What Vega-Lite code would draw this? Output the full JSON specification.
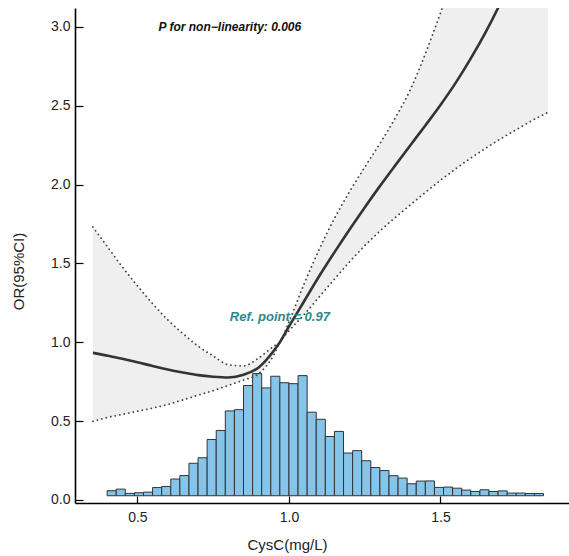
{
  "$schema": "https://vega.github.io/schema/vega-lite/v6.json",
  "width": 494,
  "height": 495,
  "autosize": {"type": "none"},
  "padding": {"left": 75, "top": 8, "right": 0, "bottom": 53},
  "background": "white",
  "config": {
    "view": {"stroke": null},
    "font": "Liberation Sans",
    "axis": {"grid": false, "domainColor": "#000000", "domainWidth": 1.6, "tickColor": "#000000", "tickWidth": 1.2, "labelFont": "Liberation Sans", "labelFontSize": 14, "labelColor": "#222222", "titleFont": "Liberation Sans", "titleFontSize": 15, "titleFontWeight": "normal", "titleColor": "#222222"}
  },
  "datasets": {
    "curve": [
      {"x": 0.353, "or": 0.933, "lower": 0.498, "upper": 1.731},
      {"x": 0.40, "or": 0.915, "lower": 0.522, "upper": 1.608},
      {"x": 0.45, "or": 0.895, "lower": 0.542, "upper": 1.478},
      {"x": 0.50, "or": 0.873, "lower": 0.562, "upper": 1.358},
      {"x": 0.55, "or": 0.849, "lower": 0.582, "upper": 1.245},
      {"x": 0.60, "or": 0.827, "lower": 0.605, "upper": 1.142},
      {"x": 0.65, "or": 0.808, "lower": 0.634, "upper": 1.055},
      {"x": 0.70, "or": 0.791, "lower": 0.664, "upper": 0.975},
      {"x": 0.75, "or": 0.781, "lower": 0.693, "upper": 0.913},
      {"x": 0.80, "or": 0.776, "lower": 0.726, "upper": 0.857},
      {"x": 0.85, "or": 0.793, "lower": 0.760, "upper": 0.850},
      {"x": 0.90, "or": 0.840, "lower": 0.800, "upper": 0.900},
      {"x": 0.95, "or": 0.946, "lower": 0.920, "upper": 0.975},
      {"x": 0.97, "or": 1.0, "lower": 1.0, "upper": 1.0},
      {"x": 1.00, "or": 1.10, "lower": 1.072, "upper": 1.13},
      {"x": 1.05, "or": 1.26, "lower": 1.175, "upper": 1.37},
      {"x": 1.10, "or": 1.42, "lower": 1.288, "upper": 1.59},
      {"x": 1.15, "or": 1.57, "lower": 1.400, "upper": 1.785},
      {"x": 1.20, "or": 1.715, "lower": 1.510, "upper": 1.955},
      {"x": 1.25, "or": 1.855, "lower": 1.612, "upper": 2.11},
      {"x": 1.30, "or": 1.99, "lower": 1.705, "upper": 2.26},
      {"x": 1.35, "or": 2.12, "lower": 1.790, "upper": 2.42},
      {"x": 1.40, "or": 2.248, "lower": 1.870, "upper": 2.60},
      {"x": 1.45, "or": 2.375, "lower": 1.950, "upper": 2.83},
      {"x": 1.50, "or": 2.505, "lower": 2.027, "upper": 3.09},
      {"x": 1.55, "or": 2.645, "lower": 2.100, "upper": 3.37},
      {"x": 1.60, "or": 2.80, "lower": 2.168, "upper": 3.66},
      {"x": 1.65, "or": 2.97, "lower": 2.232, "upper": 3.96},
      {"x": 1.70, "or": 3.16, "lower": 2.292, "upper": 4.27},
      {"x": 1.75, "or": 3.37, "lower": 2.348, "upper": 4.58},
      {"x": 1.80, "or": 3.59, "lower": 2.404, "upper": 4.90},
      {"x": 1.855, "or": 3.84, "lower": 2.458, "upper": 5.25}
    ],
    "hist": [
      {"start": 0.40, "end": 0.43, "h": 0.058},
      {"start": 0.43, "end": 0.46, "h": 0.068},
      {"start": 0.46, "end": 0.49, "h": 0.041},
      {"start": 0.49, "end": 0.52, "h": 0.045},
      {"start": 0.52, "end": 0.55, "h": 0.049},
      {"start": 0.55, "end": 0.58, "h": 0.078},
      {"start": 0.58, "end": 0.61, "h": 0.085},
      {"start": 0.61, "end": 0.64, "h": 0.132},
      {"start": 0.64, "end": 0.67, "h": 0.154},
      {"start": 0.67, "end": 0.70, "h": 0.232},
      {"start": 0.70, "end": 0.73, "h": 0.267},
      {"start": 0.73, "end": 0.76, "h": 0.383},
      {"start": 0.76, "end": 0.79, "h": 0.440},
      {"start": 0.79, "end": 0.82, "h": 0.564},
      {"start": 0.82, "end": 0.85, "h": 0.572},
      {"start": 0.85, "end": 0.88, "h": 0.725},
      {"start": 0.88, "end": 0.91, "h": 0.801},
      {"start": 0.91, "end": 0.94, "h": 0.710},
      {"start": 0.94, "end": 0.97, "h": 0.784},
      {"start": 0.97, "end": 1.00, "h": 0.743},
      {"start": 1.00, "end": 1.03, "h": 0.737},
      {"start": 1.03, "end": 1.06, "h": 0.788},
      {"start": 1.06, "end": 1.09, "h": 0.556},
      {"start": 1.09, "end": 1.12, "h": 0.511},
      {"start": 1.12, "end": 1.15, "h": 0.402},
      {"start": 1.15, "end": 1.18, "h": 0.434},
      {"start": 1.18, "end": 1.21, "h": 0.297},
      {"start": 1.21, "end": 1.24, "h": 0.312},
      {"start": 1.24, "end": 1.27, "h": 0.248},
      {"start": 1.27, "end": 1.30, "h": 0.205},
      {"start": 1.30, "end": 1.33, "h": 0.186},
      {"start": 1.33, "end": 1.36, "h": 0.153},
      {"start": 1.36, "end": 1.39, "h": 0.138},
      {"start": 1.39, "end": 1.42, "h": 0.102},
      {"start": 1.42, "end": 1.45, "h": 0.119},
      {"start": 1.45, "end": 1.48, "h": 0.120},
      {"start": 1.48, "end": 1.51, "h": 0.079},
      {"start": 1.51, "end": 1.54, "h": 0.081},
      {"start": 1.54, "end": 1.57, "h": 0.074},
      {"start": 1.57, "end": 1.60, "h": 0.062},
      {"start": 1.60, "end": 1.63, "h": 0.053},
      {"start": 1.63, "end": 1.66, "h": 0.064},
      {"start": 1.66, "end": 1.69, "h": 0.053},
      {"start": 1.69, "end": 1.72, "h": 0.057},
      {"start": 1.72, "end": 1.75, "h": 0.043},
      {"start": 1.75, "end": 1.78, "h": 0.043},
      {"start": 1.78, "end": 1.81, "h": 0.040},
      {"start": 1.81, "end": 1.84, "h": 0.040}
    ],
    "labels": [
      {"x": 0.805, "y": 3.0, "label": "P for non−linearity: 0.006", "kind": "p"},
      {"x": 0.97, "y": 1.157, "label": "Ref. point = 0.97", "kind": "ref"}
    ]
  },
  "layer": [
    {
      "data": {"name": "curve"},
      "mark": {"type": "area", "color": "#efefef", "clip": true, "interpolate": "monotone"},
      "encoding": {
        "x": {"field": "x", "type": "quantitative", "scale": {"domain": [0.294, 1.924], "nice": false, "zero": false},
              "axis": {"values": [0.5, 1.0, 1.5], "format": ".1f", "title": "CysC(mg/L)", "tickSize": -7, "labelPadding": 14, "titleX": 212, "titleY": 34}},
        "y": {"field": "lower", "type": "quantitative", "scale": {"domain": [-0.02, 3.12], "nice": false, "zero": false},
              "axis": {"values": [0, 0.5, 1.0, 1.5, 2.0, 2.5, 3.0], "format": ".1f", "title": "OR(95%CI)", "tickSize": -8, "labelPadding": 13, "titleX": -49, "titleY": 263}},
        "y2": {"field": "upper"}
      }
    },
    {
      "data": {"name": "hist"},
      "mark": {"type": "rect", "fill": "#86c4ea", "stroke": "#333333", "strokeWidth": 1},
      "encoding": {
        "x": {"field": "start", "type": "quantitative"},
        "x2": {"field": "end"},
        "y": {"field": "h", "type": "quantitative"},
        "y2": {"datum": 0.026}
      }
    },
    {
      "data": {"name": "curve"},
      "mark": {"type": "line", "color": "#444444", "strokeWidth": 1.8, "strokeDash": [0.1, 4.5], "strokeCap": "round", "clip": true, "interpolate": "monotone"},
      "encoding": {
        "x": {"field": "x", "type": "quantitative"},
        "y": {"field": "upper", "type": "quantitative"}
      }
    },
    {
      "data": {"name": "curve"},
      "mark": {"type": "line", "color": "#444444", "strokeWidth": 1.8, "strokeDash": [0.1, 4.5], "strokeCap": "round", "clip": true, "interpolate": "monotone"},
      "encoding": {
        "x": {"field": "x", "type": "quantitative"},
        "y": {"field": "lower", "type": "quantitative"}
      }
    },
    {
      "data": {"name": "curve"},
      "mark": {"type": "line", "color": "#333333", "strokeWidth": 2.6, "clip": true, "interpolate": "monotone"},
      "encoding": {
        "x": {"field": "x", "type": "quantitative"},
        "y": {"field": "or", "type": "quantitative"}
      }
    },
    {
      "mark": {"type": "rule", "color": "#3f9ea3", "strokeWidth": 1.5, "strokeDash": [5, 4]},
      "encoding": {"y": {"datum": 1}}
    },
    {
      "mark": {"type": "rule", "color": "#3f9ea3", "strokeWidth": 1.5, "strokeDash": [5, 4]},
      "encoding": {"x": {"datum": 0.97}}
    },
    {
      "data": {"name": "labels"},
      "transform": [{"filter": "datum.kind === 'p'"}],
      "mark": {"type": "text", "fontSize": 12, "fontWeight": "bold", "fontStyle": "italic", "color": "#111111", "align": "center", "baseline": "middle"},
      "encoding": {
        "x": {"field": "x", "type": "quantitative"},
        "y": {"field": "y", "type": "quantitative"},
        "text": {"field": "label"}
      }
    },
    {
      "data": {"name": "labels"},
      "transform": [{"filter": "datum.kind === 'ref'"}],
      "mark": {"type": "text", "fontSize": 13, "fontWeight": "bold", "fontStyle": "italic", "color": "#2a8a8c", "align": "center", "baseline": "middle"},
      "encoding": {
        "x": {"field": "x", "type": "quantitative"},
        "y": {"field": "y", "type": "quantitative"},
        "text": {"field": "label"}
      }
    }
  ]
}
